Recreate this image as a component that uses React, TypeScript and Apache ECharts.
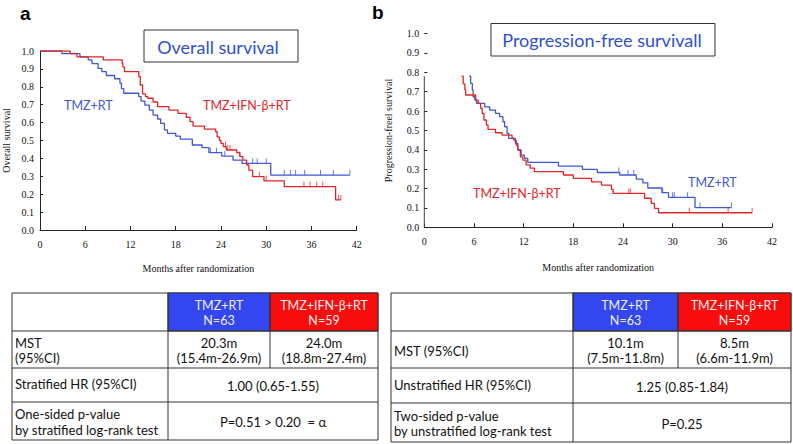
import React, { useEffect, useRef } from "react";
import * as echarts from "echarts";

// ---------- Data ----------
const X_TICKS_MAX = 42;
const X_INTERVAL = 6;

// Overall survival – Kaplan–Meier steps [month, survival]
const OS_TMZ_RT: [number, number][] = [
  [0, 1], [2.9, 0.985], [5.3, 0.967], [6.4, 0.95], [6.9, 0.93], [7.7, 0.903], [8.2, 0.885],
  [8.8, 0.863], [9.9, 0.845], [10.6, 0.82], [10.8, 0.79], [11.1, 0.764], [13.1, 0.745],
  [13.4, 0.72], [13.9, 0.698], [14.5, 0.67], [15.0, 0.642], [15.6, 0.62], [16.0, 0.596],
  [16.5, 0.559], [16.9, 0.54], [18.0, 0.525], [18.6, 0.508], [20.2, 0.475], [21.5, 0.46],
  [22.4, 0.432], [24.1, 0.413], [25.6, 0.39], [26.8, 0.372], [30.6, 0.307], [41.1, 0.307],
];
const OS_TMZ_IFN_RT: [number, number][] = [
  [0, 1], [4.0, 0.985], [4.9, 0.967], [8.4, 0.95], [10.9, 0.93], [11.0, 0.91], [11.2, 0.885],
  [13.1, 0.857], [13.3, 0.81], [13.6, 0.76], [14.0, 0.745], [14.3, 0.736], [15.0, 0.715],
  [15.6, 0.689], [17.1, 0.67], [18.3, 0.652], [19.4, 0.63], [19.9, 0.605], [20.3, 0.58],
  [21.8, 0.564], [23.3, 0.549], [23.5, 0.52], [23.8, 0.5], [24.0, 0.484], [24.3, 0.466],
  [24.7, 0.447], [26.1, 0.432], [26.5, 0.41], [26.9, 0.39], [27.4, 0.363], [27.7, 0.335],
  [28.2, 0.298], [29.7, 0.275], [32.4, 0.242], [39.2, 0.168], [39.9, 0.168],
];
const OS_TMZ_RT_CENSOR = [22.6, 23.4, 24.5, 28.2, 28.8, 30.0, 32.4, 33.2, 33.9, 35.1, 37.2, 38.9, 41.1];
const OS_TMZ_IFN_RT_CENSOR = [24.6, 24.9, 25.2, 26.5, 29.1, 30.0, 35.0, 35.8, 36.7, 37.5, 39.6, 39.9];

// Progression-free survival (shown cut at the top of the panel)
const PFS_AXIS_TOP = 0.78;
const PFS_TMZ_RT: [number, number][] = [
  [5.4, 0.78], [5.6, 0.743], [5.8, 0.709], [5.9, 0.674], [6.1, 0.657], [6.3, 0.64], [7.3, 0.622],
  [7.9, 0.605], [8.6, 0.588], [9.1, 0.571], [9.5, 0.545], [9.7, 0.519], [10.0, 0.485],
  [10.2, 0.459], [11.0, 0.433], [11.3, 0.399], [11.7, 0.373], [12.1, 0.356], [12.5, 0.335],
  [16.2, 0.316], [19.1, 0.299], [20.9, 0.283], [23.6, 0.27], [25.6, 0.249], [26.4, 0.229],
  [27.0, 0.203], [28.7, 0.179], [29.5, 0.155], [32.7, 0.102], [37.1, 0.102],
];
const PFS_TMZ_IFN_RT: [number, number][] = [
  [4.5, 0.78], [4.7, 0.74], [4.9, 0.709], [5.0, 0.683], [6.2, 0.657], [6.5, 0.64], [6.8, 0.614],
  [7.0, 0.588], [7.2, 0.554], [7.5, 0.528], [7.7, 0.506], [8.6, 0.488], [9.4, 0.476],
  [10.6, 0.46], [10.8, 0.45], [11.1, 0.425], [11.3, 0.399], [11.6, 0.364], [11.9, 0.347],
  [12.3, 0.322], [12.8, 0.305], [13.3, 0.287], [16.8, 0.27], [18.0, 0.253], [20.2, 0.235],
  [21.4, 0.218], [22.6, 0.196], [22.8, 0.175], [26.6, 0.15], [27.4, 0.124], [27.8, 0.098],
  [28.3, 0.075], [39.6, 0.075],
];
const PFS_TMZ_RT_CENSOR = [23.5, 24.6, 25.3, 28.8, 30.0, 30.2, 31.8, 33.3, 37.1];
const PFS_TMZ_IFN_RT_CENSOR = [24.7, 24.9, 32.0, 36.7, 39.6];

// Tables
const GROUP_HEADERS = ["TMZ+RT\nN=63", "TMZ+IFN-β+RT\nN=59"];
const TABLE_A_LABELS = ["MST\n(95%CI)", "Stratified HR (95%CI)", "One-sided p-value\nby stratified log-rank test"];
const TABLE_A_MST = ["20.3m\n(15.4m-26.9m)", "24.0m\n(18.8m-27.4m)"];
const TABLE_A_HR = "1.00 (0.65-1.55)";
const TABLE_A_P = "P=0.51 > 0.20  = α";
const TABLE_B_LABELS = ["MST (95%CI)", "Unstratified HR (95%CI)", "Two-sided p-value\nby unstratified log-rank test"];
const TABLE_B_MST = ["10.1m\n(7.5m-11.8m)", "8.5m\n(6.6m-11.9m)"];
const TABLE_B_HR = "1.25 (0.85-1.84)";
const TABLE_B_P = "P=0.25";

// ---------- Styles ----------
const BLUE = "#4157d3";
const RED = "#e2242a";
const HEAD_BLUE = "#3346ef";
const HEAD_RED = "#f70d0d";
const SERIF = "Liberation Serif";
const SANS = "Lato";

function stepValue(curve: [number, number][], t: number): number {
  let v = curve[0][1];
  for (const [x, y] of curve) {
    if (x <= t + 1e-9) v = y;
  }
  return v;
}

function censorData(curve: [number, number][], times: number[]) {
  return times.map((t) => [t, stepValue(curve, t)]);
}

function txt(x: number, y: number, text: string, opts: any = {}) {
  return {
    type: "text",
    x,
    y,
    silent: true,
    style: {
      text,
      fill: opts.fill || "#111",
      fontSize: opts.fontSize || 13,
      fontFamily: opts.fontFamily || SANS,
      fontWeight: opts.fontWeight || "normal",
      align: opts.align || "left",
      textAlign: opts.align || "left",
      verticalAlign: "middle",
      textVerticalAlign: "middle",
      lineHeight: opts.lineHeight || 15.5,
    },
  };
}

function line(x1: number, y1: number, x2: number, y2: number, stroke = "#333") {
  return { type: "line", silent: true, shape: { x1, y1, x2, y2 }, style: { stroke, lineWidth: 1 } };
}

function buildTable(
  cols: number[],
  rows: number[],
  labels: string[],
  mst: string[],
  hr: string,
  p: string
) {
  const els: any[] = [];
  const [c0, c1, c2, c3] = cols;
  const [r0, r1, r2, r3, r4] = rows;
  els.push({ type: "rect", silent: true, shape: { x: c0, y: r0, width: c3 - c0, height: r4 - r0 }, style: { fill: "#fff", stroke: "#333", lineWidth: 1 } });
  els.push({ type: "rect", silent: true, shape: { x: c1, y: r0, width: c2 - c1, height: r1 - r0 }, style: { fill: HEAD_BLUE, stroke: "#333", lineWidth: 1 } });
  els.push({ type: "rect", silent: true, shape: { x: c2, y: r0, width: c3 - c2, height: r1 - r0 }, style: { fill: HEAD_RED, stroke: "#333", lineWidth: 1 } });
  els.push(line(c0, r1, c3, r1));
  els.push(line(c0, r2, c3, r2));
  els.push(line(c0, r3, c3, r3));
  els.push(line(c1, r0, c1, r4));
  els.push(line(c2, r0, c2, r2));
  const mid = (a: number, b: number) => (a + b) / 2;
  els.push(txt(mid(c1, c2), mid(r0, r1) + 1, GROUP_HEADERS[0], { align: "center", fill: "#eef0ff", fontSize: 12.5 }));
  els.push(txt(mid(c2, c3), mid(r0, r1) + 1, GROUP_HEADERS[1], { align: "center", fill: "#ffeeee", fontSize: 12.5 }));
  els.push(txt(c0 + 3, mid(r1, r2) + 1, labels[0]));
  els.push(txt(c0 + 3, mid(r2, r3) - 1, labels[1]));
  els.push(txt(c0 + 3, mid(r3, r4) + 1, labels[2]));
  els.push(txt(mid(c1, c2), mid(r1, r2) + 1, mst[0], { align: "center" }));
  els.push(txt(mid(c2, c3), mid(r1, r2) + 1, mst[1], { align: "center" }));
  els.push(txt(mid(c1, c3), mid(r2, r3) + 1, hr, { align: "center" }));
  els.push(txt(mid(c1, c3), mid(r3, r4) + 1, p, { align: "center" }));
  return els;
}

function axisCommon(gridIndex: number) {
  return {
    gridIndex,
    type: "value" as const,
    axisLine: { show: true, lineStyle: { color: "#222", width: 1 } },
    axisTick: { show: true, inside: true, length: 4, lineStyle: { color: "#222" } },
    splitLine: { show: false },
  };
}

export default function App() {
  const ref = useRef<HTMLDivElement>(null);
  useEffect(() => {
    if (!ref.current) return;
    const chart = echarts.init(ref.current, undefined, { renderer: "svg" });

    const kmLine = (name: string, data: [number, number][], color: string, idx: number) => ({
      name,
      type: "line",
      xAxisIndex: idx,
      yAxisIndex: idx,
      step: "end",
      symbol: "none",
      data,
      lineStyle: { color, width: 1.3 },
      itemStyle: { color },
      silent: true,
      z: 3,
    });
    const censor = (name: string, data: number[][], color: string, idx: number) => ({
      name,
      type: "scatter",
      xAxisIndex: idx,
      yAxisIndex: idx,
      symbol: "rect",
      symbolSize: [1, 5],
      symbolOffset: [0, -2.5],
      data,
      itemStyle: { color },
      silent: true,
      z: 4,
    });

    const graphic: any[] = [
      txt(20, 13, "a", { fontFamily: "Liberation Sans", fontWeight: "bold", fontSize: 19, fill: "#000" }),
      txt(372, 12, "b", { fontFamily: "Liberation Sans", fontWeight: "bold", fontSize: 19, fill: "#000" }),
      { type: "rect", silent: true, shape: { x: 144, y: 30, width: 154, height: 32 }, style: { fill: "#fff", stroke: "#333", lineWidth: 1 } },
      txt(218, 47, "Overall survival", { align: "center", fontSize: 18, fill: "#2f4fd0" }),
      { type: "rect", silent: true, shape: { x: 491, y: 23.5, width: 224, height: 32.5 }, style: { fill: "#fff", stroke: "#333", lineWidth: 1 } },
      txt(602, 40, "Progression-free survivall", { align: "center", fontSize: 18, fill: "#2f4fd0" }),
      txt(64, 105, "TMZ+RT", { fill: BLUE, fontSize: 12.5 }),
      txt(203, 105, "TMZ+IFN-β+RT", { fill: RED, fontSize: 12.5 }),
      txt(688, 182, "TMZ+RT", { fill: BLUE, fontSize: 12.5 }),
      txt(473, 193, "TMZ+IFN-β+RT", { fill: RED, fontSize: 12.5 }),
      ...buildTable([12, 168, 270, 378], [293, 331, 368, 402, 440], TABLE_A_LABELS, TABLE_A_MST, TABLE_A_HR, TABLE_A_P),
      ...buildTable([391, 573, 678, 791], [293, 331, 368, 403, 442], TABLE_B_LABELS, TABLE_B_MST, TABLE_B_HR, TABLE_B_P),
    ];

    const option: any = {
      animation: false,
      grid: [
        { left: 36, top: 51, width: 320.7, height: 179 },
        { left: 424.3, top: 33.6, width: 347.7, height: 193.7 },
      ],
      xAxis: [0, 1].map((i) => ({
        ...axisCommon(i),
        min: 0,
        max: X_TICKS_MAX,
        interval: X_INTERVAL,
        axisLabel: { color: "#111", fontFamily: SERIF, fontSize: 10, margin: 9 },
        name: "Months after randomization",
        nameLocation: "middle",
        nameGap: i === 0 ? 33 : 35,
        nameTextStyle: { color: "#111", fontFamily: SERIF, fontSize: 10 },
      })),
      yAxis: [0, 1].map((i) => ({
        ...axisCommon(i),
        min: 0,
        max: 1,
        interval: 0.1,
        axisLine: { show: i === 0, lineStyle: { color: "#222", width: 1 } },
        axisTick: { show: true, inside: true, length: 3, lineStyle: { color: "#222" } },
        axisLabel: { color: "#111", fontFamily: SERIF, fontSize: 10, margin: i === 0 ? 6 : 5, formatter: (v: number) => v.toFixed(1) },
        name: i === 0 ? "Overall survival" : "Progression-freel survival",
        nameLocation: "middle",
        nameRotate: 90,
        nameGap: i === 0 ? 29 : 31,
        nameTextStyle: { color: "#111", fontFamily: SERIF, fontSize: 10 },
      })),
      series: [
        kmLine("TMZ+RT", OS_TMZ_RT, BLUE, 0),
        kmLine("TMZ+IFN-β+RT", OS_TMZ_IFN_RT, RED, 0),
        censor("TMZ+RT censored", censorData(OS_TMZ_RT, OS_TMZ_RT_CENSOR), BLUE, 0),
        censor("TMZ+IFN-β+RT censored", censorData(OS_TMZ_IFN_RT, OS_TMZ_IFN_RT_CENSOR), RED, 0),
        {
          name: "PFS axis",
          type: "line",
          xAxisIndex: 1,
          yAxisIndex: 1,
          symbol: "none",
          data: [[0, 0], [0, PFS_AXIS_TOP]],
          lineStyle: { color: "#444", width: 1 },
          silent: true,
          z: 2,
        },
        kmLine("TMZ+RT PFS", PFS_TMZ_RT, BLUE, 1),
        kmLine("TMZ+IFN-β+RT PFS", PFS_TMZ_IFN_RT, RED, 1),
        censor("TMZ+RT PFS censored", censorData(PFS_TMZ_RT, PFS_TMZ_RT_CENSOR), BLUE, 1),
        censor("TMZ+IFN-β+RT PFS censored", censorData(PFS_TMZ_IFN_RT, PFS_TMZ_IFN_RT_CENSOR), RED, 1),
      ],
      graphic,
    };
    chart.setOption(option);
    return () => chart.dispose();
  }, []);

  return (
    <div
      ref={ref}
      style={{ position: "absolute", left: 0, top: 0, width: 793, height: 444, background: "#fff" }}
    />
  );
}
